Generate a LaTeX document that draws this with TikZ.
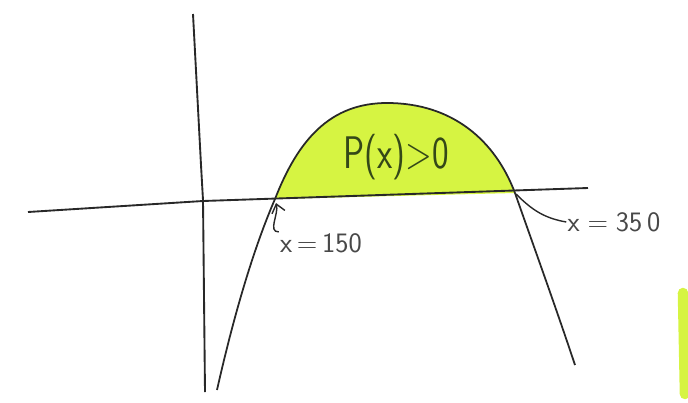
\documentclass[tikz,border=0pt]{standalone}
\usepackage{xcolor}
\definecolor{limeink}{RGB}{214,244,66}
\definecolor{penink}{RGB}{40,40,40}
\definecolor{greenink}{RGB}{52,72,24}
\usepackage{tikz}
\usetikzlibrary{arrows.meta,positioning,calc}

\begin{document}
\begin{tikzpicture}[
  x=0.3mm,y=-0.3mm,
  font=\sffamily,
  axis/.style={draw=penink,line width=1.6pt,line join=round},
  curve/.style={draw=penink,line width=1.5pt},
  hilite/.style={fill=limeink,draw=none},
  rootlbl/.style={text=penink!85,font=\sffamily\fontsize{24}{26}\selectfont,inner sep=1pt},
  arealbl/.style={text=greenink,font=\sffamily\fontsize{30}{32}\selectfont},
  pointer/.style={draw=penink,line width=1.2pt}
]
\useasboundingbox (0,0) rectangle (688,402);
% shaded region where P(x) > 0
\path[hilite] (275,199) .. controls (298,140) and (330,103) .. (387,103)
  .. controls (452,103) and (495,140) .. (515,193) -- cycle;
% axes
\draw[axis] (28,212) -- (203,201) -- (588,188);
\draw[axis] (193,14) -- (201,165) -- (203,200) -- (205,392);
% parabola
\draw[curve] (217,390) .. controls (235,310) and (255,245) .. (275,199)
  .. controls (298,140) and (330,103) .. (387,103)
  .. controls (452,103) and (495,140) .. (515,193)
  .. controls (535,250) and (555,305) .. (575,365);
% roots and labels
\coordinate (x1) at (276,203);
\coordinate (x2) at (516,194);
\node[arealbl] (area) at (396,157) {\scalebox{1}[1.3]{P(x)>0}};
\node[rootlbl] (l150) at (321,243) {x\,=\,150};
\node[rootlbl] (l350) at (614,222) {x\;=\;35\,0};
\draw[pointer,-{Straight Barb[length=2.5mm,width=4mm]}] (l150.north west) to[out=180,in=-75] (x1);
\draw[pointer] (l350.west) to[out=170,in=-45] (x2);
% stray highlighter stroke
\draw[limeink,line width=9pt,line cap=round] (683,293) -- (685,394);
\end{tikzpicture}
\end{document}
